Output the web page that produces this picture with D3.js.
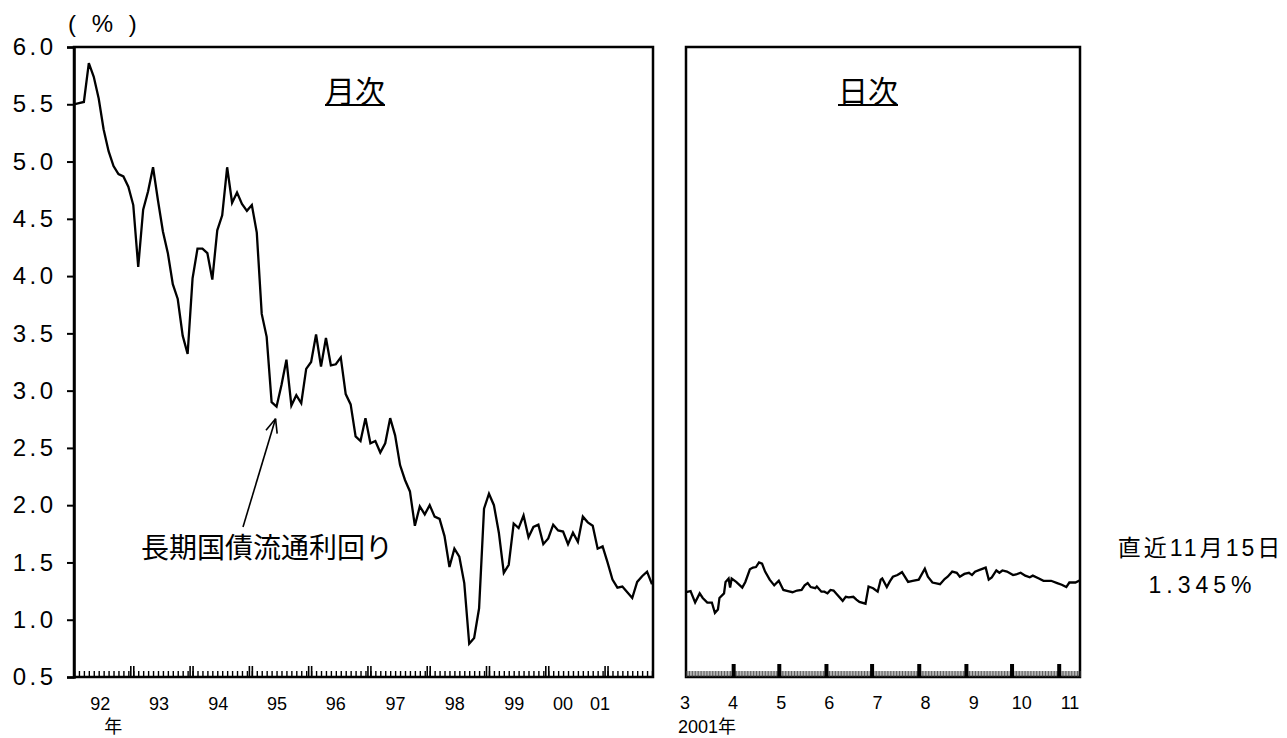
<!DOCTYPE html>
<html>
<head>
<meta charset="utf-8">
<script src="https://cdn.jsdelivr.net/npm/d3@7"></script>
<style>
  body { margin: 0; background: #fff; }
  svg text { font-family: "Liberation Sans", Arial, "Noto Sans CJK JP", sans-serif; fill: #000; }
</style>
</head>
<body>
<svg id="chart" width="1287" height="738"></svg>
<script>
// monthly JGB yield, Jan 1992 .. Oct 2001
const monthlyYield = [
  5.50, 5.51, 5.52, 5.86, 5.74, 5.55, 5.28, 5.09, 4.96, 4.89, 4.87, 4.78,
  4.62, 4.08, 4.58, 4.74, 4.95, 4.66, 4.39, 4.20, 3.93, 3.80, 3.48, 3.32,
  3.98, 4.24, 4.24, 4.20, 3.97, 4.40, 4.53, 4.95, 4.64, 4.73, 4.63, 4.57,
  4.62, 4.38, 3.67, 3.47, 2.90, 2.86, 3.05, 3.27, 2.87, 2.96, 2.89, 3.19,
  3.25, 3.49, 3.21, 3.46, 3.22, 3.23, 3.29, 2.97, 2.88, 2.60, 2.56, 2.76,
  2.54, 2.56, 2.46, 2.54, 2.76, 2.61, 2.35, 2.22, 2.12, 1.82, 1.99, 1.92,
  2.00, 1.90, 1.88, 1.73, 1.46, 1.62, 1.55, 1.32, 0.79, 0.84, 1.10, 1.97,
  2.10, 2.00, 1.76, 1.41, 1.48, 1.84, 1.80, 1.91, 1.72, 1.81, 1.83, 1.66,
  1.71, 1.83, 1.78, 1.77, 1.66, 1.76, 1.68, 1.90, 1.85, 1.82, 1.62, 1.64,
  1.50, 1.35, 1.28, 1.29, 1.24, 1.19, 1.33, 1.38, 1.42, 1.31
];
const yearLabels = ["92", "93", "94", "95", "96", "97", "98", "99", "00", "01"];
// where each year label sits, in months from Jan 1992
const yearLabelAt = [5.3, 17.2, 29.2, 41.1, 53, 65.1, 77.1, 89.1, 99, 106.5];

// daily yield, 2001
const dailyDates = [
  "03-01","03-04","03-07","03-10","03-12","03-15","03-18","03-20","03-22","03-23",
  "03-26","03-27","03-29","03-30","03-31","04-03","04-07","04-09","04-12","04-14",
  "04-16","04-18","04-20","04-22","04-25","04-28","05-01","05-04","05-07","05-10",
  "05-13","05-16","05-18","05-20","05-22","05-25","05-26","05-29","05-31","06-02",
  "06-04","06-06","06-08","06-12","06-14","06-16","06-19","06-21","06-23","06-27",
  "06-29","07-02","07-05","07-07","07-08","07-11","07-13","07-15","07-18","07-21",
  "07-25","07-28","08-01","08-05","08-07","08-10","08-15","08-18","08-20","08-23",
  "08-26","08-28","08-31","09-03","09-05","09-07","09-10","09-14","09-16","09-18",
  "09-21","09-23","09-25","09-28","10-02","10-04","10-07","10-10","10-13","10-15",
  "10-19","10-22","10-27","10-31","11-03","11-06","11-08","11-12","11-15"
];
const dailyYield = [
  1.24, 1.25, 1.15, 1.23, 1.19, 1.15, 1.15, 1.06, 1.09, 1.19,
  1.23, 1.33, 1.36, 1.28, 1.36, 1.33, 1.28, 1.33, 1.44, 1.455,
  1.46, 1.50, 1.49, 1.42, 1.35, 1.30, 1.34, 1.26, 1.25, 1.24,
  1.255, 1.26, 1.30, 1.32, 1.285, 1.275, 1.29, 1.245, 1.245, 1.23,
  1.26, 1.255, 1.225, 1.165, 1.20, 1.195, 1.20, 1.175, 1.155, 1.14,
  1.29, 1.275, 1.245, 1.35, 1.36, 1.285, 1.335, 1.375, 1.39, 1.415,
  1.33, 1.34, 1.35, 1.445, 1.375, 1.325, 1.31, 1.355, 1.375, 1.42,
  1.41, 1.375, 1.40, 1.41, 1.39, 1.42, 1.435, 1.455, 1.35, 1.37,
  1.43, 1.41, 1.43, 1.42, 1.39, 1.395, 1.41, 1.385, 1.37, 1.385,
  1.36, 1.34, 1.34, 1.32, 1.305, 1.285, 1.325, 1.325, 1.345
];
const dayMonthLabels = ["3", "4", "5", "6", "7", "8", "9", "10", "11"];
const yTicks = [0.5, 1.0, 1.5, 2.0, 2.5, 3.0, 3.5, 4.0, 4.5, 5.0, 5.5, 6.0];

const svg = d3.select("#chart");
const plotTop = 47, plotBottom = 677;
const left1 = 74, right1 = 653, left2 = 686, right2 = 1080;

const y = d3.scaleLinear().domain([0.5, 6]).range([plotBottom, plotTop]);
const xM = d3.scaleLinear().domain([0, monthlyYield.length - 1]).range([left1, right1 - 1]);
const parseDay = d3.timeParse("%Y-%m-%d");
const dayStart = parseDay("2001-03-01"), dayEnd = parseDay("2001-11-15");
const xD = d3.scaleTime().domain([dayStart, dayEnd]).range([left2, right2]);
const daily = dailyDates.map((d, i) => ({ date: parseDay("2001-" + d), v: dailyYield[i] }));

// ---- left panel: monthly ----
svg.append("rect")
  .attr("x", left1).attr("y", plotTop).attr("width", right1 - left1).attr("height", plotBottom - plotTop)
  .attr("fill", "none").attr("stroke", "#000").attr("stroke-width", 2.5);

const yAxis = svg.append("g")
  .attr("transform", `translate(${left1},0)`)
  .call(d3.axisLeft(y).tickValues(yTicks).tickSize(7).tickPadding(10.5).tickFormat(d3.format(".1f")));
yAxis.select(".domain").attr("stroke-width", 2.5);
yAxis.selectAll(".tick line").attr("stroke-width", 2);
yAxis.selectAll("text").attr("font-size", 24).attr("letter-spacing", "3.5px")
  .style("font-family", '"Liberation Sans", Arial, sans-serif');

// month ticks, inside the frame
const mTicks = svg.append("g")
  .attr("transform", `translate(0,${plotBottom})`)
  .call(d3.axisBottom(xM).tickValues(d3.range(monthlyYield.length)).tickSizeInner(-6).tickSizeOuter(0).tickFormat(""));
mTicks.select(".domain").remove();
mTicks.selectAll(".tick line").attr("stroke-width", 1.4);

const yearStarts = d3.range(12, monthlyYield.length, 12);
const tallTicks = svg.append("g")
  .attr("transform", `translate(0,${plotBottom})`)
  .call(d3.axisBottom(xM).tickValues(yearStarts.flatMap(m => [m - 0.6, m])).tickSizeInner(-11).tickSizeOuter(0).tickFormat(""));
tallTicks.select(".domain").remove();
tallTicks.selectAll(".tick line").attr("stroke-width", 1.6);

svg.append("g").selectAll("text")
  .data(yearLabels)
  .join("text")
  .attr("x", (d, i) => xM(yearLabelAt[i]))
  .attr("y", 710)
  .attr("text-anchor", "middle")
  .attr("font-size", 18)
  .text(d => d);
svg.append("text")
  .attr("x", xM(yearLabelAt[0]) + 13).attr("y", 733)
  .attr("text-anchor", "middle").attr("font-size", 18)
  .style("font-family", '"Noto Sans CJK JP", sans-serif')
  .text("年");

svg.append("path")
  .datum(monthlyYield)
  .attr("fill", "none")
  .attr("stroke", "#000")
  .attr("stroke-width", 2.3)
  .attr("stroke-linejoin", "miter")
  .attr("d", d3.line().x((d, i) => xM(i)).y(d => y(d)));

// titles
function title(text, cx) {
  const t = svg.append("text")
    .attr("x", cx).attr("y", 102)
    .attr("text-anchor", "middle").attr("font-size", 30)
    .style("font-family", '"Noto Sans CJK JP", sans-serif')
    .text(text);
  const bb = t.node().getBBox();
  svg.append("line")
    .attr("x1", bb.x).attr("x2", bb.x + bb.width)
    .attr("y1", 105).attr("y2", 105)
    .attr("stroke", "#000").attr("stroke-width", 2);
}
title("月次", 355);
title("日次", 868);

// unit
svg.append("text")
  .attr("x", 68).attr("y", 32)
  .attr("font-size", 24).attr("letter-spacing", "4.5px")
  .style("font-family", '"Liberation Sans", Arial, sans-serif')
  .text("( % )");

// annotation with arrow, pointing up at the 1995 dip
const annotIdx = 41;
const tip = [xM(annotIdx) - 1, y(monthlyYield[annotIdx]) + 12];
const tail = [243, 527];
svg.append("line")
  .attr("x1", tail[0]).attr("y1", tail[1]).attr("x2", tip[0]).attr("y2", tip[1])
  .attr("stroke", "#000").attr("stroke-width", 1.6);
const ang = Math.atan2(tail[1] - tip[1], tail[0] - tip[0]);
[-0.4, 0.4].forEach(da => {
  svg.append("line")
    .attr("x1", tip[0]).attr("y1", tip[1])
    .attr("x2", tip[0] + 15 * Math.cos(ang + da))
    .attr("y2", tip[1] + 15 * Math.sin(ang + da))
    .attr("stroke", "#000").attr("stroke-width", 1.6);
});
svg.append("text")
  .attr("x", 141).attr("y", 558)
  .attr("font-size", 28)
  .style("font-family", '"Noto Sans CJK JP", sans-serif')
  .text("長期国債流通利回り");

// ---- right panel: daily ----
svg.append("rect")
  .attr("x", left2).attr("y", plotTop).attr("width", right2 - left2).attr("height", plotBottom - plotTop)
  .attr("fill", "none").attr("stroke", "#000").attr("stroke-width", 2.5);

const allDays = d3.timeDay.range(dayStart, d3.timeDay.offset(dayEnd, 1));
const dTicks = svg.append("g")
  .attr("transform", `translate(0,${plotBottom})`)
  .call(d3.axisBottom(xD).tickValues(allDays).tickSizeInner(-6).tickSizeOuter(0).tickFormat(""));
dTicks.select(".domain").remove();
dTicks.selectAll(".tick line").attr("stroke-width", 0.8).attr("stroke", "#333");

const monthStarts = d3.timeMonth.range(d3.timeMonth.offset(dayStart, 1), dayEnd);
const mdTicks = svg.append("g")
  .attr("transform", `translate(0,${plotBottom})`)
  .call(d3.axisBottom(xD).tickValues(monthStarts).tickSizeInner(-13).tickSizeOuter(0).tickFormat(""));
mdTicks.select(".domain").remove();
mdTicks.selectAll(".tick line").attr("stroke-width", 4);

const xLab = d3.scalePoint().domain(dayMonthLabels).range([685, 1070]);
svg.append("g").selectAll("text")
  .data(dayMonthLabels)
  .join("text")
  .attr("x", d => xLab(d))
  .attr("y", 709)
  .attr("text-anchor", "middle")
  .attr("font-size", 18)
  .text(d => d);
svg.append("text")
  .attr("x", 678).attr("y", 733)
  .attr("font-size", 18)
  .text("2001年");

svg.append("path")
  .datum(daily)
  .attr("fill", "none")
  .attr("stroke", "#000")
  .attr("stroke-width", 2.3)
  .attr("d", d3.line().x(d => xD(d.date)).y(d => y(d.v)));

// latest value note
const last = daily[daily.length - 1];
svg.append("text")
  .attr("x", 1200.5).attr("y", 556)
  .attr("text-anchor", "middle").attr("font-size", 23).attr("letter-spacing", "3px")
  .text(`直近${d3.timeFormat("%-m")(last.date)}月${d3.timeFormat("%-d")(last.date)}日`);
svg.append("text")
  .attr("x", 1202.5).attr("y", 593)
  .attr("text-anchor", "middle").attr("font-size", 23).attr("letter-spacing", "5px")
  .text(d3.format(".3f")(last.v) + "%");
</script>
</body>
</html>
